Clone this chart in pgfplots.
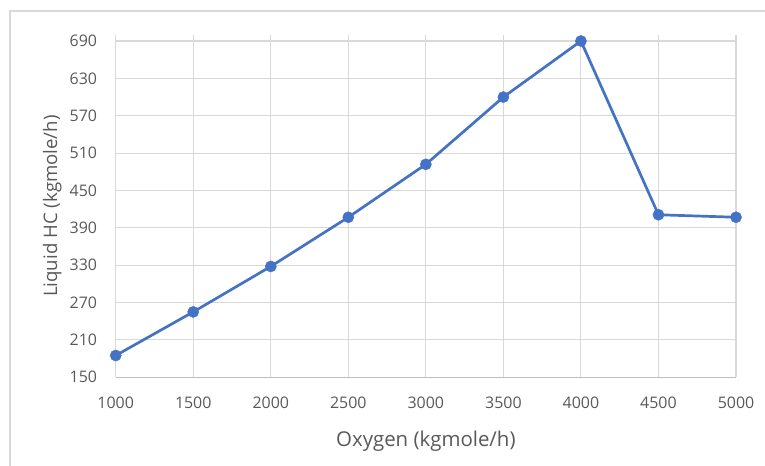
\documentclass[border=0pt]{standalone}
\usepackage{pgfplots}
\pgfplotsset{compat=1.18}
\usepackage{fontspec}
\setmainfont{Open Sans}
\definecolor{txt}{HTML}{595959}
\definecolor{gridc}{HTML}{D9D9D9}
\definecolor{axc}{HTML}{BFBFBF}
\definecolor{ser}{HTML}{4472C4}
\begin{document}
\begin{tikzpicture}[x=1bp,y=1bp]
\useasboundingbox (-115.7,-88.7) rectangle (649.3,377.3);
\begin{scope}
\clip (-115.7,-88.7) rectangle (649.3,377.3);
\draw[gridc, line width=1.2bp] (-105.7,-120) -- (-105.7,366.3) -- (700,366.3);
\end{scope}
\begin{axis}[
  at={(0,0)}, anchor=south west,
  scale only axis, width=620.3bp, height=342.5bp,
  xmin=1000, xmax=5000, ymin=150, ymax=700,
  xtick={1000,1500,...,5000}, ytick={150,210,...,690},
  grid=major, grid style={gridc, line width=1.1bp},
  axis x line*=bottom, axis y line*=left,
  axis line style={-},
  x axis line style={axc, line width=1.1bp},
  y axis line style={draw=none},
  major tick length=0pt,
  tick label style={font=\fontsize{16}{19}\selectfont, text=txt, inner sep=0pt},
  /pgf/number format/assume math mode=true,
  /pgf/number format/1000 sep={},
  xticklabel style={anchor=base, yshift=-31bp},
  yticklabel style={anchor=east, xshift=-18.5bp},
  xlabel={Oxygen (kgmole/h)},
  xlabel style={font=\fontsize{20.5}{24}\selectfont, text=txt, inner sep=0pt,
    at={(axis description cs:0.5,0)}, anchor=base, yshift=-69.4bp},
  ylabel={Liquid HC (kgmole/h)},
  ylabel style={font=\fontsize{18.7}{22}\selectfont, text=txt, inner sep=0pt,
    at={(axis description cs:-0.0946,0.5)}, anchor=base},
  clip=false,
]
\addplot[ser, line width=2.7bp, mark=*, mark size=5.6bp, mark options={fill=ser, draw=ser, line width=0.4bp}]
coordinates {
(1000,185) (1500,255) (2000,328) (2500,407) (3000,492) (3500,600) (4000,690) (4500,411) (5000,407)
};
\end{axis}
\end{tikzpicture}
\end{document}
